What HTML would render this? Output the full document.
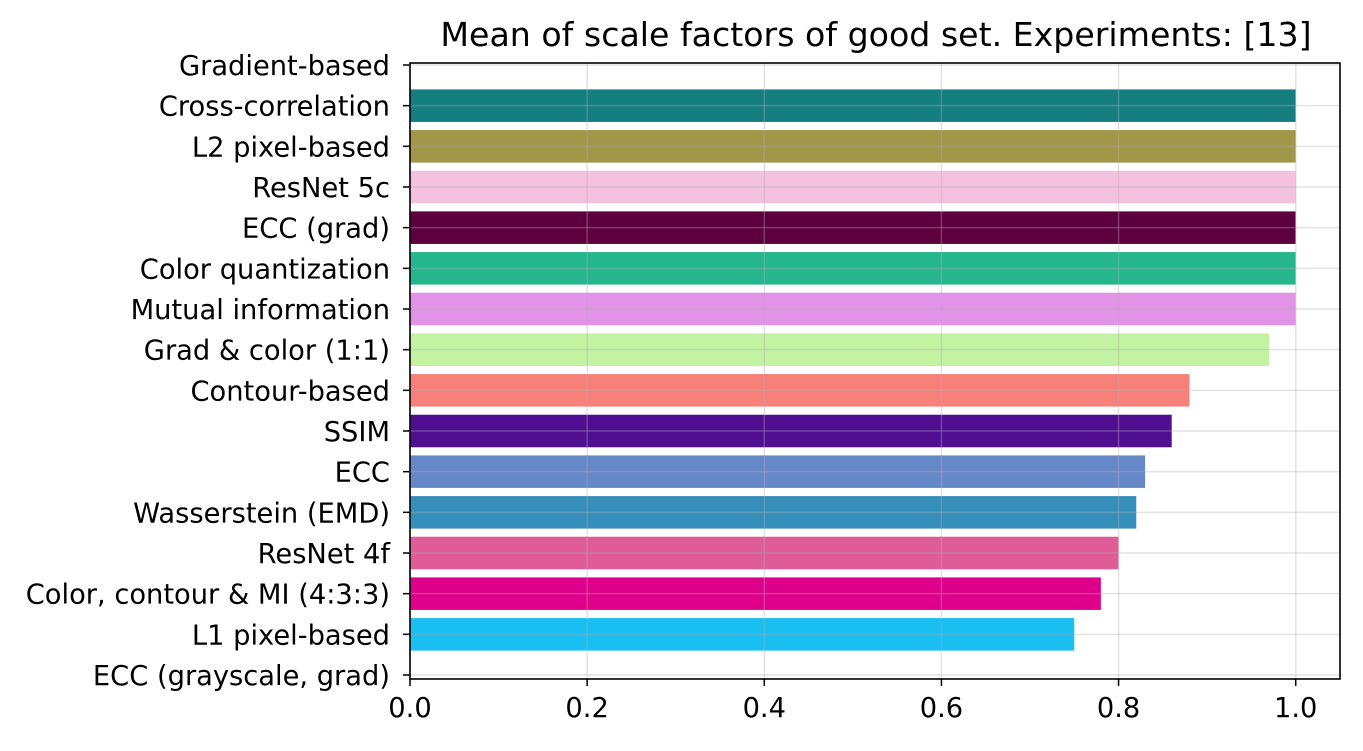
<!DOCTYPE html>
<html><head><meta charset="utf-8"><style>
body{margin:0;background:#fff}
svg text{font-family:"DejaVu Sans","Liberation Sans",sans-serif;fill:#000}
</style></head><body>
<svg id="c" width="1363" height="746"></svg>
<script>
const categories=["Gradient-based","Cross-correlation","L2 pixel-based","ResNet 5c","ECC (grad)","Color quantization","Mutual information","Grad & color (1:1)","Contour-based","SSIM","ECC","Wasserstein (EMD)","ResNet 4f","Color, contour & MI (4:3:3)","L1 pixel-based","ECC (grayscale, grad)"];
const values=[0,1,1,1,1,1,1,0.97,0.88,0.86,0.83,0.82,0.80,0.78,0.75,0];
const colors=["#888","#157f7f","#a29649","#f4c2de","#5e0040","#26b68c","#e393e7","#c2f2a2","#f7807a","#500f91","#6788c8","#358fba","#df5c98","#de008a","#1abff2","#888"];
const xTicks=[0,0.2,0.4,0.6,0.8,1.0];
const NS="http://www.w3.org/2000/svg";
const svg=document.getElementById('c');
const L=410,R=1340,T=63,B=679;
const x=v=>L+v*(R-L)/1.05;
const y=i=>65+i*(675-65)/(categories.length-1);
const bh=0.8*(675-65)/(categories.length-1);
function mk(t,a){const e=document.createElementNS(NS,t);for(const k in a)e.setAttribute(k,a[k]);svg.appendChild(e);return e;}
categories.forEach((c,i)=>{
  if(values[i]>0){const r=mk('rect',{x:x(0),y:y(i)-bh/2,width:x(values[i])-x(0),height:bh,fill:colors[i]});
  
  }
  mk('line',{x1:L,x2:R,y1:y(i),y2:y(i),stroke:'rgba(176,176,176,0.35)','stroke-width':1.5});
  mk('line',{x1:L-7,x2:L,y1:y(i),y2:y(i),stroke:'#000','stroke-width':1.5});
  const t=mk('text',{x:L-20,y:y(i)+10,'text-anchor':'end','font-size':27.3});t.textContent=c;
  
  
});
xTicks.forEach(v=>{
  mk('line',{x1:x(v),x2:x(v),y1:T,y2:B,stroke:'rgba(176,176,176,0.35)','stroke-width':1.5});
  mk('line',{x1:x(v),x2:x(v),y1:B,y2:B+7,stroke:'#000','stroke-width':1.5});
  const t=mk('text',{x:x(v),y:B+38,'text-anchor':'middle','font-size':27.3});t.textContent=v.toFixed(1);
  
  
});
const f=mk('rect',{x:L,y:T,width:R-L,height:B-T,fill:'none',stroke:'#000','stroke-width':1.6});


const ti=mk('text',{x:(L+R)/2+1,y:46,'text-anchor':'middle','font-size':33.2});ti.textContent="Mean of scale factors of good set. Experiments: [13]";


</script>
</body></html>
